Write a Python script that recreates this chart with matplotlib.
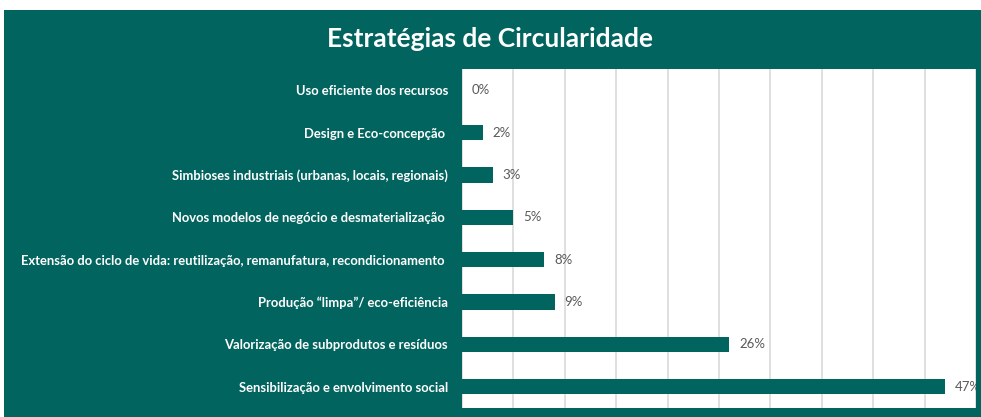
import matplotlib
matplotlib.use("Agg")
import matplotlib.pyplot as plt
from matplotlib.patches import Rectangle

categories = [
    "Uso eficiente dos recursos",
    "Design e Eco-concepção ",
    "Simbioses industriais (urbanas, locais, regionais)",
    "Novos modelos de negócio e desmaterialização ",
    "Extensão do ciclo de vida: reutilização, remanufatura, recondicionamento ",
    "Produção “limpa”/ eco-eficiência",
    "Valorização de subprodutos e resíduos",
    "Sensibilização e envolvimento social",
]
values = [0, 2, 3, 5, 8, 9, 26, 47]
value_labels = ["0%", "2%", "3%", "5%", "8%", "9%", "26%", "47%"]
title = "Estratégias de Circularidade"

GREEN = "#02645F"
FONT = ["Lato", "DejaVu Sans"]
W, H = 981, 417
fig = plt.figure(figsize=(W / 100, H / 100), dpi=100, facecolor="white")
fig.patches.append(Rectangle((4 / W, 0), 1 - 4 / W, (H - 10) / H,
                             transform=fig.transFigure, facecolor=GREEN,
                             edgecolor="none", zorder=-10))

ax = fig.add_axes([462 / W, (H - 408) / H, (976 - 462) / W, (408 - 69) / H])
ax.set_zorder(5)
ax.set_facecolor("white")
y = list(range(len(categories)))
ax.barh(y, values, height=0.36, color=GREEN, zorder=3)
ax.set_xlim(0, 50)
ax.set_ylim(len(categories) - 0.5, -0.5)
ax.set_xticks(range(0, 51, 5))
ax.xaxis.grid(True, color="#d9d9d9", linewidth=1.2, zorder=0)
ax.tick_params(axis="x", length=0, labelbottom=False)
ax.tick_params(axis="y", length=0, pad=10)
ax.set_yticks(y)
ax.set_yticklabels(categories, color="white", fontsize=9.4, fontweight="bold",
                   family=FONT)
for s in ax.spines.values():
    s.set_visible(False)

for yi, v, lab in zip(y, values, value_labels):
    ax.annotate(lab, (v, yi), xytext=(7, 0), textcoords="offset points",
                va="center", ha="left", fontsize=9.5, color="#595959",
                family=FONT, annotation_clip=False,
                clip_on=True, zorder=4)

fig.text(490 / W, 1 - 39 / H, title, ha="center", va="center", color="white",
         fontsize=19, fontweight="bold", family=FONT)

fig.savefig("out.png", dpi=100, facecolor="white")
